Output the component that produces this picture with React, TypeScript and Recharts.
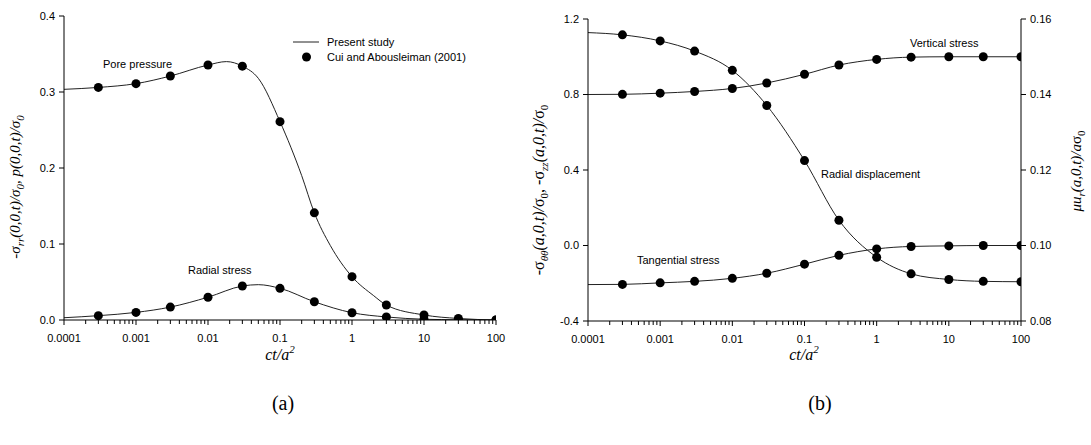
import React from 'react';
import { ComposedChart, Line, Scatter, XAxis, YAxis } from 'recharts';

// ---------- shared x (ct/a^2) ----------
const xTicks = [0.0001, 0.001, 0.01, 0.1, 1, 10, 100];
const xTickLabels = ['0.0001', '0.001', '0.01', '0.1', '1', '10', '100'];
const minorMultipliers = [2, 3, 4, 5, 6, 7, 8, 9];
const minorTicks: number[] = [];
xTicks.slice(0, -1).forEach((d) => minorMultipliers.forEach((m) => minorTicks.push(+(d * m).toPrecision(3))));
const allXTicks = [...xTicks, ...minorTicks].sort((a, b) => a - b);

const pointTimes = [0.0003, 0.001, 0.003, 0.01, 0.03, 0.1, 0.3, 1, 3, 10, 30, 100];

// ---------- (a) ----------
const yTicksA = [0, 0.1, 0.2, 0.3, 0.4];
const porePoints = [0.306, 0.311, 0.321, 0.3355, 0.334, 0.261, 0.141, 0.057, 0.0197, 0.0066, 0.002, 0.0];
const radialPoints = [0.0057, 0.01, 0.017, 0.03, 0.0447, 0.0417, 0.024, 0.0096, 0.004, 0.001, 0.0003, 0.0];
const poreLineT = [0.0001, 0.0003, 0.001, 0.003, 0.01, 0.018, 0.03, 0.05, 0.1, 0.2, 0.3, 0.5, 1, 2, 3, 10, 30, 100];
const poreLineV = [0.3035, 0.306, 0.311, 0.321, 0.3355, 0.34, 0.334, 0.318, 0.261, 0.19, 0.141, 0.098, 0.057, 0.032, 0.0197, 0.0066, 0.002, 0.0];
const radialLineT = [0.0001, 0.0003, 0.001, 0.003, 0.01, 0.03, 0.05, 0.1, 0.3, 1, 3, 10, 30, 100];
const radialLineV = [0.003, 0.0057, 0.01, 0.017, 0.03, 0.0447, 0.0465, 0.0417, 0.024, 0.0096, 0.004, 0.001, 0.0003, 0.0];

// ---------- (b) ----------
const yTicksL = [-0.4, 0, 0.4, 0.8, 1.2];
const yTicksR = [0.08, 0.1, 0.12, 0.14, 0.16];
const vertPoints = [0.801, 0.807, 0.816, 0.832, 0.861, 0.907, 0.956, 0.986, 0.998, 1.0, 1.0, 1.0];
const tangPoints = [-0.206, -0.198, -0.19, -0.174, -0.147, -0.099, -0.052, -0.018, -0.005, -0.002, 0.0, 0.0];
const dispPoints = [0.1558, 0.1542, 0.1515, 0.1464, 0.1371, 0.1225, 0.1067, 0.0969, 0.0925, 0.091, 0.0905, 0.0904];
const vertStart = 0.8;
const tangStart = -0.207;
const dispStart = 0.1564;
const lineStartT = 0.0001;

const toXY = (xs: number[], ys: number[]) => xs.map((x, i) => ({ x, y: ys[i] }));
const withStart = (t0: number, v0: number, xs: number[], ys: number[]) => [{ x: t0, y: v0 }, ...toXY(xs, ys)];

const poreLine = toXY(poreLineT, poreLineV);
const radialLine = toXY(radialLineT, radialLineV);
const porePts = toXY(pointTimes, porePoints);
const radialPts = toXY(pointTimes, radialPoints);
const vertLine = withStart(lineStartT, vertStart, pointTimes, vertPoints);
const tangLine = withStart(lineStartT, tangStart, pointTimes, tangPoints);
const dispLine = withStart(lineStartT, dispStart, pointTimes, dispPoints);
const vertPts = toXY(pointTimes, vertPoints);
const tangPts = toXY(pointTimes, tangPoints);
const dispPts = toXY(pointTimes, dispPoints);

const SANS = '"Liberation Sans", Arial, sans-serif';
const SERIF = '"Liberation Serif", "Times New Roman", serif';
const LINE = '#222';

const LogTick = (props: any) => {
  const { x, y, payload } = props;
  const v = payload.value;
  const idx = xTicks.findIndex((t) => Math.abs(t - v) / t < 1e-6);
  const major = idx >= 0;
  return (
    <g>
      <line x1={x} y1={y} x2={x} y2={y + (major ? 5 : 4)} stroke="#000" strokeWidth={1} />
      {major && (
        <text x={x} y={y + 22} textAnchor="middle" fontSize={11} fontFamily={SANS} fill="#000">
          {xTickLabels[idx]}
        </text>
      )}
    </g>
  );
};

const Dot = (p: any) => <circle cx={p.cx} cy={p.cy} r={4.5} fill="#000" />;

const axisLine = { stroke: '#000', strokeWidth: 1 };
const tickLine = { stroke: '#000', strokeWidth: 1 };
const tickStyle = { fontSize: 11, fontFamily: SANS, fill: '#000' };

function ChartA() {
  return (
    <ComposedChart width={520} height={360} margin={{ top: 16, right: 24, bottom: 10, left: 14 }}>
      <XAxis
        dataKey="x"
        type="number"
        scale="log"
        domain={[0.0001, 100]}
        allowDataOverflow
        ticks={allXTicks}
        interval={0}
        height={30}
        tickSize={0}
        tickMargin={0}
        tickLine={false}
        axisLine={axisLine}
        tick={<LogTick />}
      />
      <XAxis xAxisId="top" orientation="top" type="number" scale="log" domain={[0.0001, 100]} allowDataOverflow height={0} tick={false} tickLine={false} axisLine={axisLine} />
      <YAxis
        dataKey="y"
        type="number"
        domain={[0, 0.4]}
        allowDataOverflow
        ticks={yTicksA}
        interval={0}
        width={50}
        tickSize={5}
        tickMargin={4}
        tickFormatter={(v: number) => v.toFixed(1)}
        tick={tickStyle}
        tickLine={tickLine}
        axisLine={axisLine}
      />
      <YAxis yAxisId="frame" orientation="right" type="number" domain={[0, 0.4]} width={0} tick={false} tickLine={false} axisLine={axisLine} />
      <Line data={poreLine} dataKey="y" type="monotone" stroke={LINE} strokeWidth={1} dot={false} activeDot={false} isAnimationActive={false} />
      <Line data={radialLine} dataKey="y" type="monotone" stroke={LINE} strokeWidth={1} dot={false} activeDot={false} isAnimationActive={false} />
      <Scatter data={porePts} dataKey="y" shape={<Dot />} isAnimationActive={false} />
      <Scatter data={radialPts} dataKey="y" shape={<Dot />} isAnimationActive={false} />
    </ComposedChart>
  );
}

function ChartB() {
  return (
    <ComposedChart width={571} height={360} margin={{ top: 19, right: 20, bottom: 9, left: 18 }}>
      <XAxis
        dataKey="x"
        type="number"
        scale="log"
        domain={[0.0001, 100]}
        allowDataOverflow
        ticks={allXTicks}
        interval={0}
        height={30}
        tickSize={0}
        tickMargin={0}
        tickLine={false}
        axisLine={axisLine}
        tick={<LogTick />}
      />
      <XAxis xAxisId="top" orientation="top" type="number" scale="log" domain={[0.0001, 100]} allowDataOverflow height={0} tick={false} tickLine={false} axisLine={axisLine} />
      <YAxis
        yAxisId="L"
        dataKey="y"
        type="number"
        domain={[-0.4, 1.2]}
        allowDataOverflow
        ticks={yTicksL}
        interval={0}
        width={50}
        tickSize={5}
        tickMargin={4}
        tickFormatter={(v: number) => v.toFixed(1)}
        tick={tickStyle}
        tickLine={tickLine}
        axisLine={axisLine}
      />
      <YAxis
        yAxisId="R"
        orientation="right"
        dataKey="y"
        type="number"
        domain={[0.08, 0.16]}
        allowDataOverflow
        ticks={yTicksR}
        interval={0}
        width={50}
        tickSize={5}
        tickMargin={4}
        tickFormatter={(v: number) => v.toFixed(2)}
        tick={tickStyle}
        tickLine={tickLine}
        axisLine={axisLine}
      />
      <Line yAxisId="L" data={vertLine} dataKey="y" type="monotone" stroke={LINE} strokeWidth={1} dot={false} activeDot={false} isAnimationActive={false} />
      <Line yAxisId="L" data={tangLine} dataKey="y" type="monotone" stroke={LINE} strokeWidth={1} dot={false} activeDot={false} isAnimationActive={false} />
      <Line yAxisId="R" data={dispLine} dataKey="y" type="monotone" stroke={LINE} strokeWidth={1} dot={false} activeDot={false} isAnimationActive={false} />
      <Scatter yAxisId="L" data={vertPts} dataKey="y" shape={<Dot />} isAnimationActive={false} />
      <Scatter yAxisId="L" data={tangPts} dataKey="y" shape={<Dot />} isAnimationActive={false} />
      <Scatter yAxisId="R" data={dispPts} dataKey="y" shape={<Dot />} isAnimationActive={false} />
    </ComposedChart>
  );
}

function Overlay() {
  const sub = (s: string) => (
    <tspan dy={4} fontSize={11}>
      {s}
    </tspan>
  );
  return (
    <svg width={1091} height={445} style={{ position: 'absolute', left: 0, top: 0, pointerEvents: 'none' }}>
      {/* legend */}
      <line x1={293} y1={42} x2={319} y2={42} stroke={LINE} strokeWidth={1} />
      <text x={327} y={46} fontSize={11} fontFamily={SANS} fill="#000">Present study</text>
      <circle cx={306.5} cy={57} r={4.5} fill="#000" />
      <text x={327} y={61} fontSize={11} fontFamily={SANS} fill="#000">Cui and Abousleiman (2001)</text>

      {/* annotations */}
      <text x={103} y={68} fontSize={11} fontFamily={SANS} fill="#000">Pore pressure</text>
      <text x={188} y={274} fontSize={11} fontFamily={SANS} fill="#000">Radial stress</text>
      <text x={910} y={47} fontSize={11} fontFamily={SANS} fill="#000">Vertical stress</text>
      <text x={821} y={178} fontSize={11} fontFamily={SANS} fill="#000">Radial displacement</text>
      <text x={637} y={264} fontSize={11} fontFamily={SANS} fill="#000">Tangential stress</text>

      {/* x-axis titles */}
      <text x={280} y={360} textAnchor="middle" fontSize={16} fontFamily={SERIF} fontStyle="italic" fill="#000">
        ct/a<tspan dy={-7} fontSize={11}>2</tspan>
      </text>
      <text x={804} y={360} textAnchor="middle" fontSize={16} fontFamily={SERIF} fontStyle="italic" fill="#000">
        ct/a<tspan dy={-7} fontSize={11}>2</tspan>
      </text>

      {/* panel captions */}
      <text x={283} y={410} textAnchor="middle" fontSize={20} fontFamily={SERIF} fill="#000">(a)</text>
      <text x={820} y={410} textAnchor="middle" fontSize={20} fontFamily={SERIF} fill="#000">(b)</text>

      {/* y-axis titles */}
      <text transform="translate(20,187) rotate(-90)" textAnchor="middle" fontSize={15} fontFamily={SERIF} fontStyle="italic" fill="#000">
        -σ{sub('rr')}<tspan dy={-4}>(0,0,t)/σ</tspan>{sub('0')}<tspan dy={-4}>, p(0,0,t)/σ</tspan>{sub('0')}
      </text>
      <text transform="translate(544,190) rotate(-90)" textAnchor="middle" fontSize={16} fontFamily={SERIF} fill="#000">
        -σ<tspan dy={4} fontSize={11} fontStyle="italic">θθ</tspan>
        <tspan dy={-4} fontStyle="italic">(a,0,t)/</tspan>σ<tspan dy={4} fontSize={11}>0</tspan>
        <tspan dy={-4}>, -σ</tspan><tspan dy={4} fontSize={11} fontStyle="italic">zz</tspan>
        <tspan dy={-4} fontStyle="italic">(a,0,t)/</tspan>σ<tspan dy={4} fontSize={11}>0</tspan>
      </text>
      <text transform="translate(1081,171) rotate(-90)" textAnchor="middle" fontSize={15} fontFamily={SERIF} fill="#000">
        <tspan fontStyle="italic">μu</tspan><tspan dy={4} fontSize={11} fontStyle="italic">r</tspan>
        <tspan dy={-4} fontStyle="italic">(a,0,t)/a</tspan>σ<tspan dy={4} fontSize={11}>0</tspan>
      </text>
    </svg>
  );
}

export default function App() {
  return (
    <div style={{ position: 'absolute', left: 0, top: 0, width: 1091, height: 445, background: '#fff' }}>
      <div style={{ position: 'absolute', left: 0, top: 0 }}>
        <ChartA />
      </div>
      <div style={{ position: 'absolute', left: 520, top: 0 }}>
        <ChartB />
      </div>
      <Overlay />
    </div>
  );
}
